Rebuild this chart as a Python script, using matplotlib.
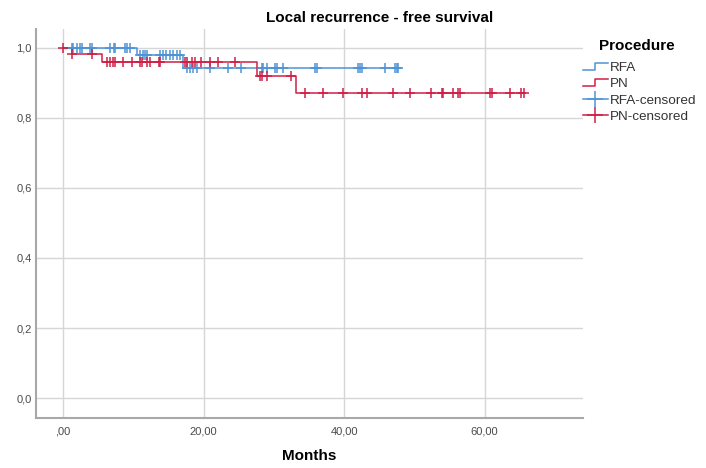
import numpy as np
import matplotlib
matplotlib.use("Agg")
import matplotlib.pyplot as plt
from matplotlib.lines import Line2D
from matplotlib.legend_handler import HandlerBase
from matplotlib.ticker import FuncFormatter

plt.rcParams['font.family'] = ['Liberation Sans', 'DejaVu Sans']

# Kaplan-Meier steps (months, survival)
rfa_times = [0, 10.5, 17.1, 47.7]
rfa_surv = [1.0, 0.98, 0.942, 0.942]
rfa_censored = [1.24, 1.47, 1.95, 2.42, 2.66, 3.84, 4.08, 6.73, 7.2, 7.4, 8.8, 9.06, 9.5,
                10.95, 11.4, 11.66, 11.9, 13.8, 14.3, 14.7, 15.2, 15.7, 16.2, 16.6,
                17.6, 18.1, 18.5, 19.0, 20.9, 23.5, 25.4, 28.3, 28.5, 29.0, 30.2, 30.4,
                31.3, 35.8, 36.1, 42.0, 42.2, 42.5, 45.8, 47.2, 47.5, 47.7]

pn_times = [0, 1.24, 5.5, 27.55, 33.2, 65.6]
pn_surv = [1.0, 0.983, 0.96, 0.921, 0.871, 0.871]
pn_censored = [0.05, 1.3, 4.1, 6.2, 6.7, 7.15, 7.4, 8.6, 9.8, 10.95, 11.2, 11.9, 12.4,
               13.6, 13.8, 17.4, 17.6, 18.3, 18.8, 19.7, 20.9, 22.1, 24.5,
               28.0, 28.3, 29.0, 32.5, 34.4, 37.0, 39.9, 42.5, 43.2, 47.0, 49.4,
               52.4, 53.9, 54.1, 55.5, 56.2, 56.5, 60.7, 61.0, 63.6, 65.2, 65.6]

rfa_color = '#4f93d6'
pn_color = '#cf1f45'


def surv_at(times, surv, t):
    idx = np.searchsorted(times, t, side='right') - 1
    return np.asarray(surv)[idx]


class StepHandler(HandlerBase):
    def create_artists(self, legend, orig_handle, xdescent, ydescent,
                       width, height, fontsize, trans):
        x = np.array([0, 0.5, 0.5, 1.0]) * width - xdescent
        y = np.array([0.15, 0.15, 0.85, 0.85]) * height - ydescent
        line = Line2D(x, y, color=orig_handle.get_color(), lw=1.1)
        line.set_transform(trans)
        return [line]


fig = plt.figure(figsize=(7.06, 4.68), dpi=100)
ax = fig.add_axes([36 / 706, 1 - 418 / 468, (583 - 36) / 706, (418 - 29) / 468])

ax.step(rfa_times, rfa_surv, where='post', color=rfa_color, lw=1.1, zorder=3)
ax.step(pn_times, pn_surv, where='post', color=pn_color, lw=1.1, zorder=3)
ax.plot(rfa_censored, surv_at(rfa_times, rfa_surv, rfa_censored), ls='none',
        marker='+', ms=7, mew=1.1, color=rfa_color, zorder=4)
ax.plot(pn_censored, surv_at(pn_times, pn_surv, pn_censored), ls='none',
        marker='+', ms=7, mew=1.1, color=pn_color, zorder=4)

ax.set_xlim(-3.84, 74)
ax.set_ylim(-0.057, 1.054)
ax.set_xticks([0, 20, 40, 60])
ax.set_yticks([0, 0.2, 0.4, 0.6, 0.8, 1.0])
ax.xaxis.set_major_formatter(FuncFormatter(lambda v, p: (',00' if v == 0 else f'{v:.2f}'.replace('.', ','))))
ax.yaxis.set_major_formatter(FuncFormatter(lambda v, p: f'{v:.1f}'.replace('.', ',')))
ax.tick_params(length=0, labelsize=8, colors='#4a4a4a')
ax.tick_params(axis='x', pad=6)
ax.tick_params(axis='y', pad=3)
ax.grid(True, color='#d6d6d6', lw=1)
ax.set_axisbelow(True)
for s in ['top', 'right']:
    ax.spines[s].set_visible(False)
for s in ['left', 'bottom']:
    ax.spines[s].set_color('#a8a8a8')
    ax.spines[s].set_linewidth(1.5)

fig.text(380 / 706, 1 - 18 / 468, 'Local recurrence - free survival', fontsize=11,
         fontweight='bold', ha='center', va='center')
fig.text(309 / 706, 1 - 456 / 468, 'Months', fontsize=11, fontweight='bold',
         ha='center', va='center')

handles = [Line2D([], [], color=rfa_color), Line2D([], [], color=pn_color),
           Line2D([], [], color=rfa_color, marker='+', ms=12, mew=1.1, lw=1.1),
           Line2D([], [], color=pn_color, marker='+', ms=12, mew=1.1, lw=1.1)]
labels = ['RFA', 'PN', 'RFA-censored', 'PN-censored']
fig.text(637 / 706, 1 - 46.5 / 468, 'Procedure', fontsize=11, fontweight='bold',
         ha='center', va='center')
leg = fig.legend(handles, labels, loc='upper left',
                 bbox_to_anchor=(583 / 706, 1 - 62 / 468), frameon=False,
                 fontsize=9.7, handlelength=1.85, handletextpad=0.15,
                 labelspacing=0.27, borderaxespad=0, borderpad=0,
                 handler_map={handles[0]: StepHandler(), handles[1]: StepHandler()})
for t in leg.get_texts():
    t.set_color('#333333')

fig.savefig('out.png', dpi=100)
